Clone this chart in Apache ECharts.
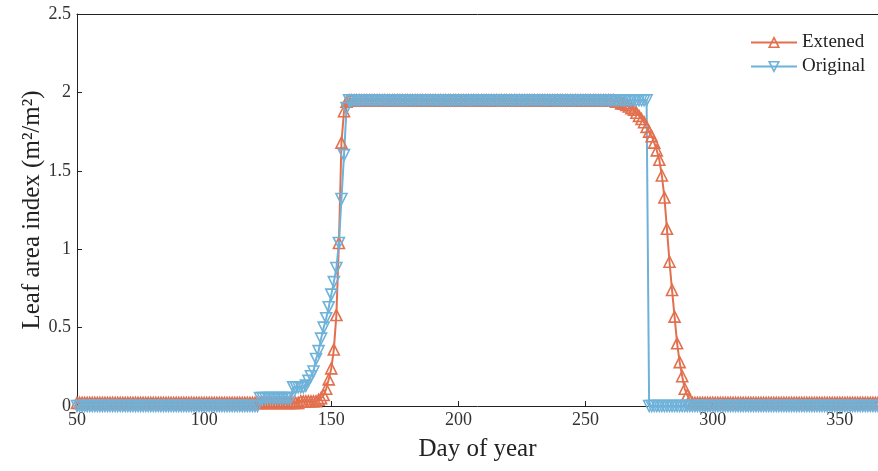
<!DOCTYPE html>
<html>
<head>
<meta charset="utf-8">
<script src="https://cdn.jsdelivr.net/npm/echarts@6/dist/echarts.min.js"></script>
<style>
  html, body { margin: 0; padding: 0; background: #fff; }
  #chart { width: 878px; height: 471px; }
</style>
</head>
<body>
<div id="chart"></div>
<script>
// runs of [fromDay, toDay, LAI]
var extendedRuns = [
    [50, 137, 0.02], [138, 144, 0.03], [145, 145, 0.04], [146, 146, 0.05],
    [147, 147, 0.07], [148, 148, 0.11], [149, 149, 0.17], [150, 150, 0.24],
    [151, 151, 0.36], [152, 152, 0.58], [153, 153, 1.04], [154, 154, 1.68],
    [155, 155, 1.88], [156, 156, 1.94], [157, 261, 1.95], [262, 263, 1.94],
    [264, 265, 1.93], [266, 266, 1.92], [267, 267, 1.91], [268, 268, 1.90],
    [269, 269, 1.89], [270, 270, 1.87], [271, 271, 1.85], [272, 272, 1.83],
    [273, 273, 1.81], [274, 274, 1.78], [275, 275, 1.75], [276, 276, 1.72],
    [277, 277, 1.68], [278, 278, 1.63], [279, 279, 1.57], [280, 280, 1.47],
    [281, 281, 1.33], [282, 282, 1.13], [283, 283, 0.92], [284, 284, 0.74],
    [285, 285, 0.57], [286, 286, 0.40], [287, 287, 0.28], [288, 288, 0.19],
    [289, 289, 0.11], [290, 290, 0.07], [291, 291, 0.04], [292, 365, 0.02]
];
var originalRuns = [
    [50, 121, 0], [122, 134, 0.05], [135, 139, 0.12], [140, 140, 0.13],
    [141, 141, 0.16], [142, 142, 0.19], [143, 143, 0.22], [144, 144, 0.30],
    [145, 145, 0.35], [146, 146, 0.43], [147, 147, 0.50], [148, 148, 0.56],
    [149, 149, 0.63], [150, 150, 0.71], [151, 151, 0.79], [152, 152, 0.88],
    [153, 153, 1.04], [154, 154, 1.32], [155, 155, 1.60], [156, 156, 1.90],
    [157, 274, 1.95], [275, 365, 0]
];
var xTicks = [50, 100, 150, 200, 250, 300, 350];
var yTicks = [0, 0.5, 1, 1.5, 2, 2.5];

var RED = '#E2704F', BLUE = '#6FB2D9';
var FONT = 'Liberation Serif';

//展开成逐日数据
function expand(runs) {
    var out = [];
    for (var i = 0; i < runs.length; i++) {
        for (var d = runs[i][0]; d <= runs[i][1]; d++) {
            out.push([d, runs[i][2]]);
        }
    }
    return out;
}

var chart = echarts.init(document.getElementById('chart'));

var lineSeries = function (name, color, data, rotate) {
    return {
        name: name,
        type: 'line',
        data: data,
        symbol: 'triangle',
        symbolSize: 11,
        symbolRotate: rotate,
        showAllSymbol: true,
        lineStyle: { color: color, width: 2 },
        itemStyle: { color: 'rgba(255,255,255,0)', borderColor: color, borderWidth: 1.6 },
        emphasis: { disabled: true },
        animation: false
    };
};

chart.setOption({
    backgroundColor: '#fff',
    grid: { left: 77, top: 14, width: 803, height: 392 },
    legend: {
        orient: 'vertical',
        left: 745,
        top: 28,
        itemWidth: 46,
        itemHeight: 12,
        itemGap: 5,
        textStyle: { fontFamily: FONT, fontSize: 19, color: '#222' },
        data: [
            { name: 'Extened', itemStyle: { color: 'rgba(255,255,255,0)', borderColor: RED, borderWidth: 1.6 } },
            { name: 'Original', itemStyle: { color: 'rgba(255,255,255,0)', borderColor: BLUE, borderWidth: 1.6 } }
        ]
    },
    xAxis: [{
        type: 'value',
        min: 50,
        max: 365,
        interval: 50,
        name: 'Day of year',
        nameLocation: 'middle',
        nameGap: 31,
        nameTextStyle: { fontFamily: FONT, fontSize: 25, color: '#222' },
        axisLine: { lineStyle: { color: '#222', width: 1 } },
        axisTick: { inside: true, length: 5, lineStyle: { color: '#222' } },
        axisLabel: {
            fontFamily: FONT, fontSize: 18, color: '#333', margin: 5, showMaxLabel: false,
            formatter: function (v) { return xTicks.indexOf(v) >= 0 ? String(v) : ''; }
        },
        splitLine: { show: false }
    }, {
        type: 'value',
        position: 'top',
        min: 50,
        max: 365,
        interval: 50,
        axisLine: { lineStyle: { color: '#222', width: 1 } },
        axisTick: { show: false },
        axisLabel: { show: false },
        splitLine: { show: false }
    }],
    yAxis: {
        type: 'value',
        min: 0,
        max: 2.5,
        interval: 0.5,
        name: 'Leaf area index (m\u00B2/m\u00B2)',
        nameLocation: 'middle',
        nameGap: 32,
        nameMoveOverlap: false,
        nameTextStyle: { fontFamily: FONT, fontSize: 25, color: '#222' },
        axisLine: { show: true, lineStyle: { color: '#222', width: 1 } },
        axisTick: { show: true, inside: true, length: 5, lineStyle: { color: '#222' } },
        axisLabel: {
            fontFamily: FONT, fontSize: 18, color: '#333', margin: 6,
            formatter: function (v) { return yTicks.indexOf(v) >= 0 ? String(v) : ''; }
        },
        splitLine: { show: false }
    },
    series: [
        lineSeries('Extened', RED, expand(extendedRuns), 0),
        lineSeries('Original', BLUE, expand(originalRuns), 180)
    ]
});
</script>
</body>
</html>
